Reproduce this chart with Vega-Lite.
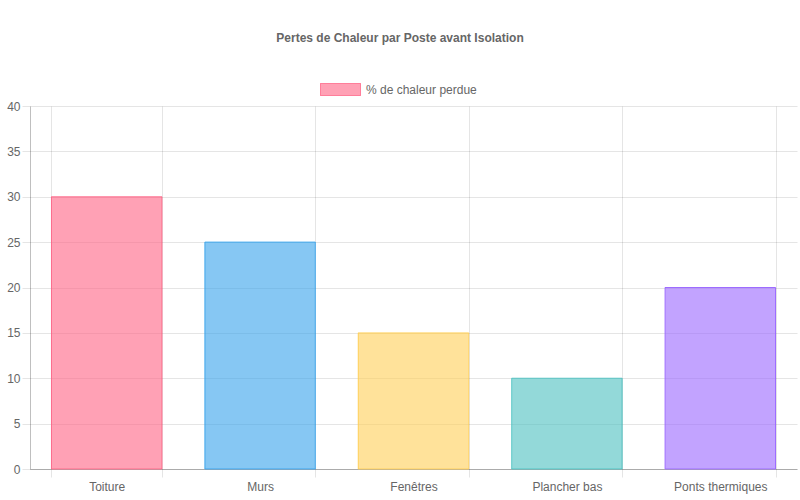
{
  "$schema": "https://vega.github.io/schema/vega-lite/v6.json",
  "width": 767,
  "height": 363,
  "autosize": {"type": "none"},
  "padding": {"left": 30, "top": 106, "right": 3, "bottom": 31},
  "title": {
    "text": "Pertes de Chaleur par Poste avant Isolation",
    "fontSize": 12,
    "fontWeight": "bold",
    "color": "#666",
    "offset": 24,
    "dx": -13.5,
    "anchor": "middle"
  },
  "data": {
    "values": [
      {"Poste": "Toiture", "Pourcentage": 30},
      {"Poste": "Murs", "Pourcentage": 25},
      {"Poste": "Fenêtres", "Pourcentage": 15},
      {"Poste": "Plancher bas", "Pourcentage": 10},
      {"Poste": "Ponts thermiques", "Pourcentage": 20}
    ]
  },
  "mark": {"type": "bar", "strokeWidth": 1},
  "encoding": {
    "x": {
      "field": "Poste",
      "type": "nominal",
      "sort": null,
      "scale": {"paddingInner": 0.28, "paddingOuter": 0.14},
      "axis": {
        "title": null,
        "labelAngle": 0,
        "tickBand": "extent",
        "grid": true,
        "gridColor": "rgba(0,0,0,0.1)",
        "tickColor": "rgba(0,0,0,0.1)",
        "domainColor": "rgba(0,0,0,0.25)",
        "tickSize": 8,
        "labelPadding": 4,
        "labelFontSize": 12,
        "labelColor": "#666"
      }
    },
    "y": {
      "field": "Pourcentage",
      "type": "quantitative",
      "scale": {"domain": [0, 40], "nice": false},
      "axis": {
        "title": null,
        "values": [0, 5, 10, 15, 20, 25, 30, 35, 40],
        "gridColor": "rgba(0,0,0,0.1)",
        "tickColor": "rgba(0,0,0,0.1)",
        "domainColor": "rgba(0,0,0,0.25)",
        "tickSize": 8,
        "labelPadding": 2,
        "labelFontSize": 12,
        "labelColor": "#666"
      }
    },
    "fill": {
      "field": "Poste",
      "type": "nominal",
      "sort": null,
      "scale": {
        "domain": ["Toiture", "Murs", "Fenêtres", "Plancher bas", "Ponts thermiques"],
        "range": ["rgba(255,99,132,0.6)", "rgba(54,162,235,0.6)", "rgba(255,206,86,0.6)", "rgba(75,192,192,0.6)", "rgba(153,102,255,0.6)"]
      },
      "legend": null
    },
    "stroke": {
      "field": "Poste",
      "type": "nominal",
      "sort": null,
      "scale": {
        "domain": ["Toiture", "Murs", "Fenêtres", "Plancher bas", "Ponts thermiques"],
        "range": ["rgb(255,99,132)", "rgb(54,162,235)", "rgb(255,206,86)", "rgb(75,192,192)", "rgb(153,102,255)"]
      },
      "legend": null
    },
    "strokeDash": {
      "datum": "% de chaleur perdue",
      "type": "nominal",
      "scale": {"domain": ["% de chaleur perdue"], "range": [[1, 0]]},
      "legend": {
        "title": null,
        "orient": "none",
        "legendX": 290,
        "legendY": -37,
        "symbolType": "M-1,-0.3H1V0.3H-1Z",
        "symbolSize": 1600,
        "symbolFillColor": "rgba(255,99,132,0.6)",
        "symbolStrokeColor": "rgb(255,99,132)",
        "symbolStrokeWidth": 1,
        "symbolOpacity": 1,
        "labelFontSize": 12,
        "labelColor": "#666",
        "labelOffset": 5,
        "encode": {
          "symbols": {
            "enter": {
              "fill": {"value": "rgba(255,99,132,0.6)"},
              "stroke": {"value": "rgb(255,99,132)"}
            },
            "update": {
              "fill": {"value": "rgba(255,99,132,0.6)"},
              "stroke": {"value": "rgb(255,99,132)"},
              "strokeWidth": {"value": 1},
              "opacity": {"value": 1}
            }
          }
        }
      }
    }
  },
  "config": {
    "view": {"stroke": null},
    "font": "Liberation Sans"
  }
}
